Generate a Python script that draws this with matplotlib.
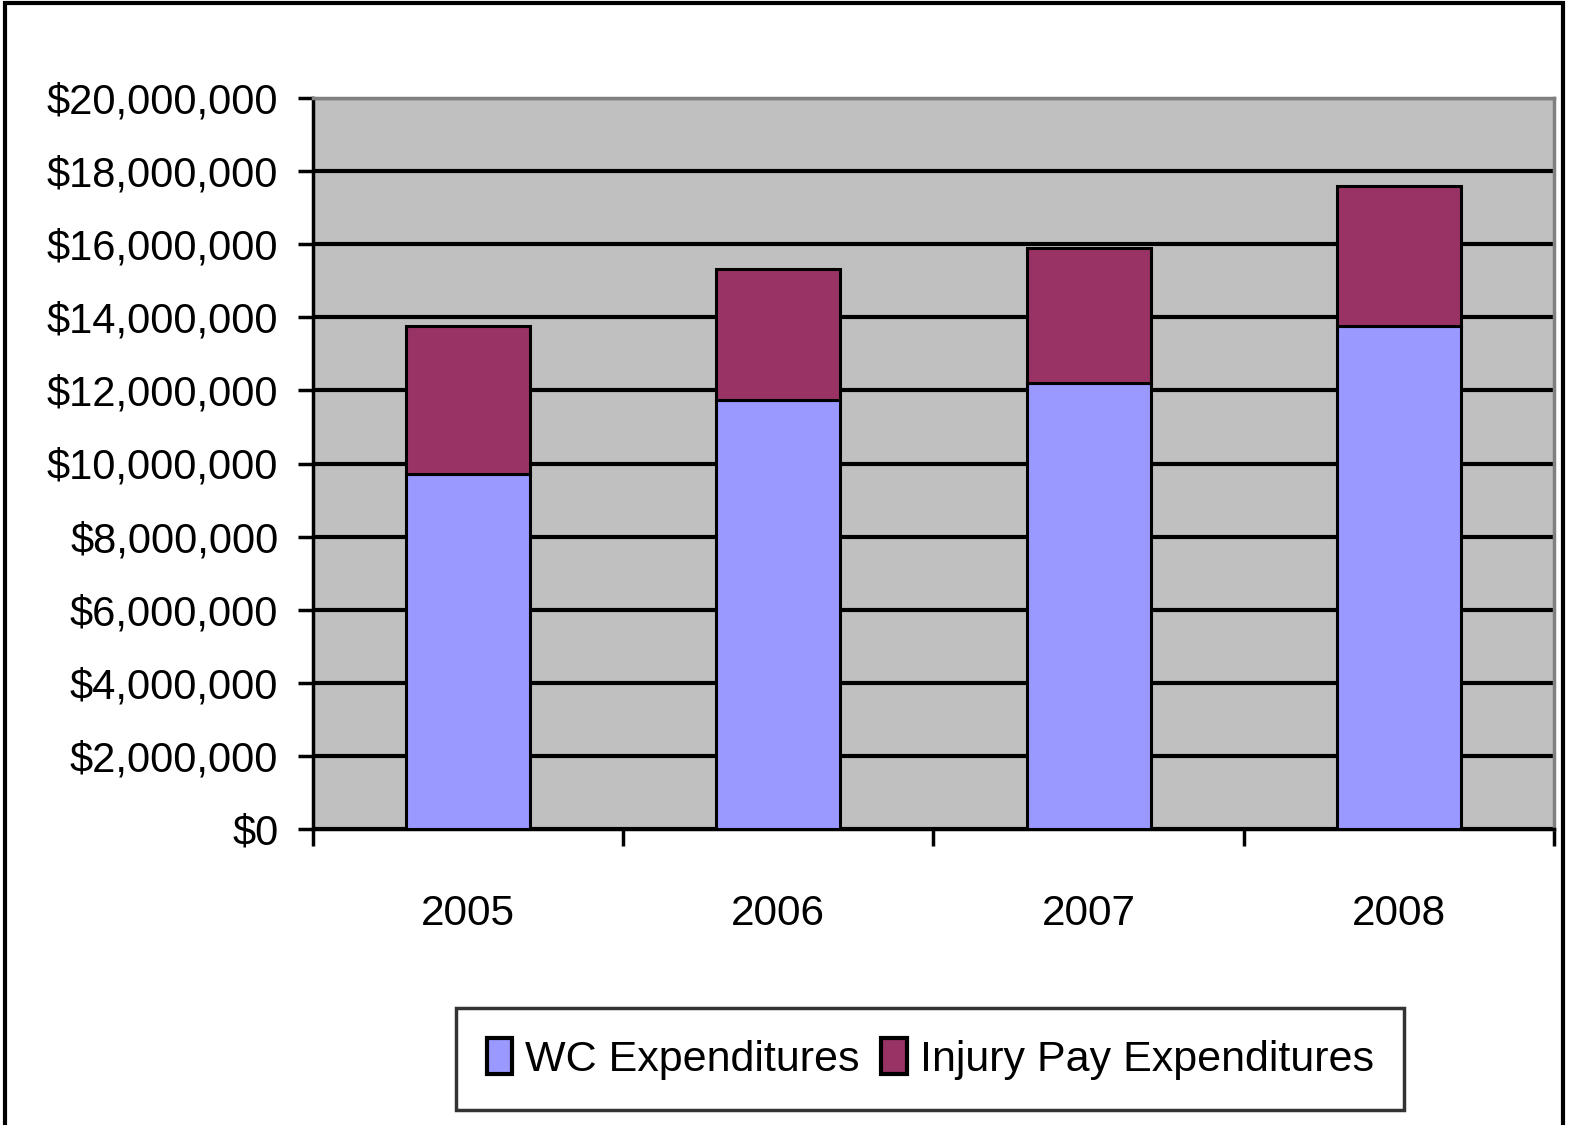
import matplotlib.pyplot as plt
import matplotlib.patches as patches
from matplotlib.ticker import FuncFormatter

years = ["2005", "2006", "2007", "2008"]
wc_exp = [9700000, 11750000, 12200000, 13750000]
injury_exp = [4050000, 3560000, 3700000, 3830000]
y_ticks = list(range(0, 20000001, 2000000))

plt.rcParams['font.family'] = ['Liberation Sans Narrow', 'Liberation Sans', 'DejaVu Sans']

fig = plt.figure(figsize=(15.85, 11.25), dpi=100)
ax = fig.add_axes([0.1975, 0.2631, 0.7829, 0.6498])
ax.set_facecolor("#C0C0C0")

x = list(range(len(years)))
ax.bar(x, wc_exp, width=0.4, color="#9999FF", edgecolor="black", linewidth=2.2,
       label="WC Expenditures", zorder=3)
ax.bar(x, injury_exp, width=0.4, bottom=wc_exp, color="#993366", edgecolor="black",
       linewidth=2.2, label="Injury Pay Expenditures", zorder=3)

ax.set_xlim(-0.5, len(years) - 0.5)
ax.set_ylim(0, 20000000)
ax.set_yticks(y_ticks)
ax.yaxis.set_major_formatter(FuncFormatter(lambda v, p: "${:,.0f}".format(v)))
ax.grid(axis="y", color="black", linewidth=3, zorder=1)

ax.set_xticks(x)
ax.set_xticklabels(years)
ax.set_xticks([i - 0.5 for i in range(len(years) + 1)], minor=True)
ax.tick_params(axis="x", which="major", length=0, pad=47, labelsize=30.5)
ax.tick_params(axis="x", which="minor", length=12, width=2.5, direction="out")
ax.tick_params(axis="y", length=11, width=2.5, direction="out", pad=14, labelsize=30)

for s in ["left", "bottom"]:
    ax.spines[s].set_linewidth(2.5)
    ax.spines[s].set_color("black")
for s in ["top", "right"]:
    ax.spines[s].set_linewidth(2.5)
    ax.spines[s].set_color("#808080")

leg = fig.legend(loc="center", bbox_to_anchor=(0.587, 0.0587), ncol=2, fontsize=31,
                 frameon=True, fancybox=False, handlelength=0.6, handleheight=0.9,
                 handletextpad=0.3, columnspacing=0.5, borderpad=0.7, borderaxespad=0)
leg.get_frame().set_edgecolor("black")
leg.get_frame().set_linewidth(2.5)
for h in leg.legend_handles:
    h.set_linewidth(3)

fig.patches.append(patches.Rectangle((0.003, -0.01), 0.983, 1.007, transform=fig.transFigure,
                                     fill=False, edgecolor="black", linewidth=3))

fig.savefig("out.png", dpi=100)
